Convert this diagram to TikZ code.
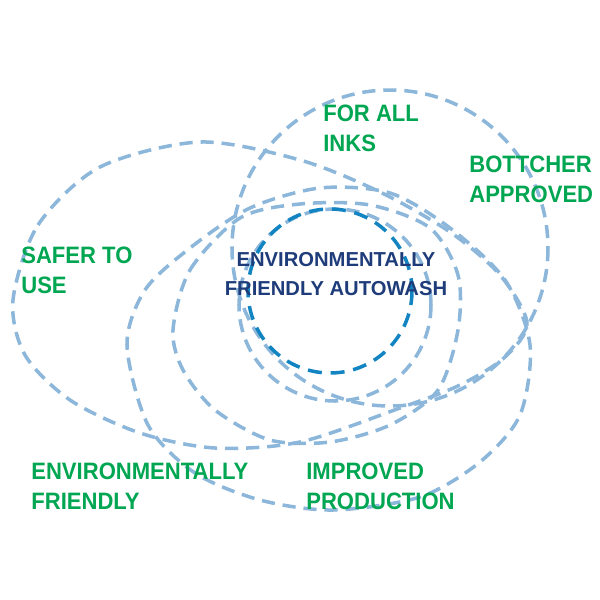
\documentclass[tikz,border=0pt]{standalone}
\usepackage{fontspec}
\setmainfont{Liberation Sans}
\newfontfamily\labelfont[FakeStretch=0.93]{Liberation Sans}
\usepackage{tikz}
\definecolor{ringblue}{RGB}{140,183,218}
\definecolor{coreblue}{RGB}{18,132,193}
\definecolor{labelgreen}{RGB}{0,166,81}
\definecolor{navy}{RGB}{31,60,122}

\begin{document}
\begin{tikzpicture}[x=0.02cm, y=-0.02cm,
  ring/.style={ringblue, line width=2pt, dash pattern=on 7.5pt off 4.5pt},
  core/.style={coreblue, line width=2pt, dash pattern=on 8pt off 5pt},
  benefit/.style={labelgreen, font=\labelfont\bfseries\fontsize{13.5}{17}\selectfont, align=left, anchor=north west, inner sep=0pt},
  title/.style={navy, font=\bfseries\fontsize{11.5}{16.4}\selectfont, align=center, anchor=north, inner sep=0pt}]
\useasboundingbox (0,0) rectangle (600,600);

%draw outer rings
\draw[ring] plot[smooth cycle] coordinates {(13,300) (38,225) (100,167) (200,142) (300,160) (380,192) (450,232) (500,275) (527,323) (505,357) (460,385) (400,408) (300,442) (215,448) (140,433) (70,400) (25,355)};  % safer to use
\draw[ring] (390,248) circle (158);  % for all inks
\draw[ring] plot[smooth cycle] coordinates {(127,345) (145,290) (190,248) (250,208) (320,188) (390,193) (450,228) (505,280) (530,345) (520,415) (480,462) (420,497) (333,510) (260,500) (195,473) (148,425)};  % improved production

%draw inner rings
\draw[ring] plot[smooth cycle] coordinates {(173,330) (190,270) (240,218) (300,204) (370,205) (430,228) (458,275) (458,330) (438,390) (390,425) (330,442) (270,440) (215,410) (183,370)};
\draw[ring] (335,305) circle (96);
\draw[core] (330,291) circle (82);

%labels
\node[benefit] (safer) at (21,247) {SAFER TO\\USE};
\node[benefit] (inks) at (323,105) {FOR ALL\\INKS};
\node[benefit] (bottcher) at (469,156) {BOTTCHER\\APPROVED};
\node[benefit] (friendly) at (31,463) {ENVIRONMENTALLY\\FRIENDLY};
\node[benefit] (production) at (306,463) {IMPROVED\\PRODUCTION};
\node[title] (autowash) at (336,252) {ENVIRONMENTALLY\\FRIENDLY AUTOWASH};

\end{tikzpicture}
\end{document}
